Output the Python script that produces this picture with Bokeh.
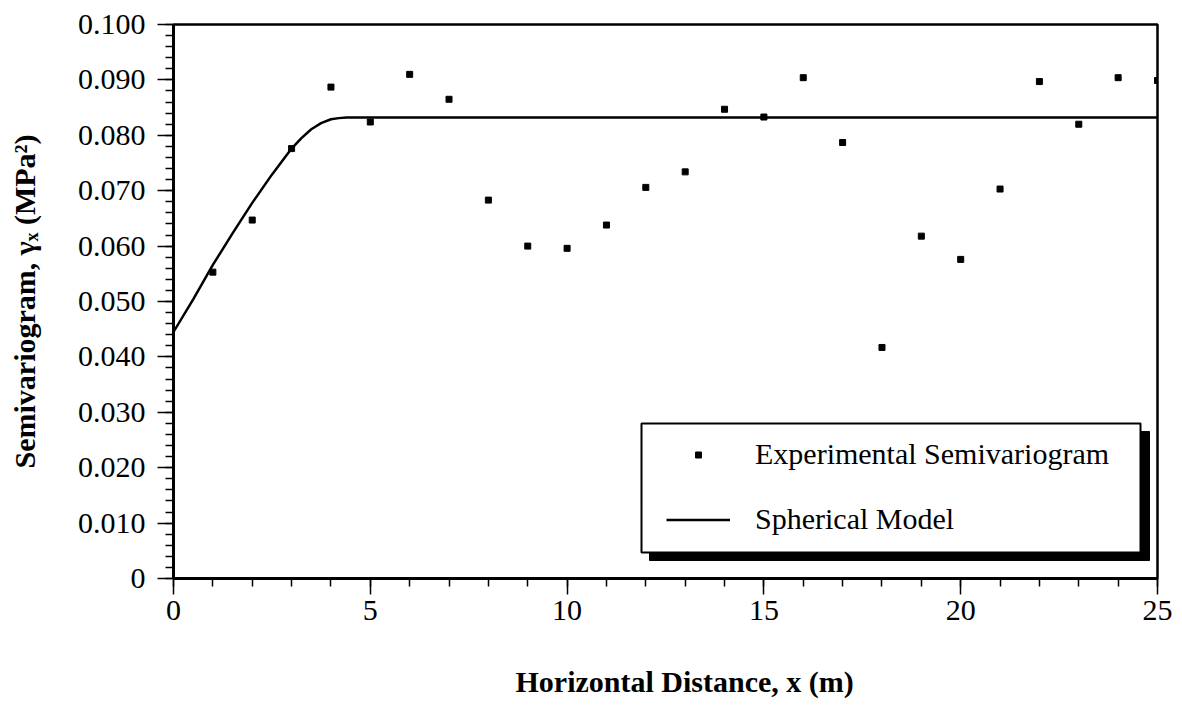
from bokeh.plotting import figure
from bokeh.models import (Range1d, FixedTicker, Legend, LegendItem, BoxAnnotation, Title)
from bokeh.embed import file_html
from bokeh.resources import INLINE

# ---- data ----
lag_x = [1, 2, 3, 4, 5, 6, 7, 8, 9, 10, 11, 12, 13, 14, 15, 16, 17, 18, 19, 20, 21, 22, 23, 24, 25]
gamma_exp = [0.0553, 0.0647, 0.0776, 0.0887, 0.0824, 0.0910, 0.0865, 0.0683, 0.0600, 0.0596,
             0.0638, 0.0706, 0.0734, 0.0847, 0.0833, 0.0904, 0.0787, 0.0417, 0.0618, 0.0576,
             0.0703, 0.0897, 0.0820, 0.0904, 0.0899]

model_x = [0, 0.5, 1, 1.5, 2, 2.5, 3, 3.25, 3.5, 3.75, 4, 4.2, 4.4, 25]
model_y = [0.0445, 0.0504, 0.0566, 0.0623, 0.0678, 0.0729, 0.0776, 0.0795, 0.0811, 0.0822,
           0.0829, 0.0831, 0.0832, 0.0832]

x_ticks = [0, 5, 10, 15, 20, 25]
x_tick_labels = ["0", "5", "10", "15", "20", "25"]
y_ticks = [0.0, 0.01, 0.02, 0.03, 0.04, 0.05, 0.06, 0.07, 0.08, 0.09, 0.1]
y_tick_labels = ["0", "0.010", "0.020", "0.030", "0.040", "0.050", "0.060", "0.070", "0.080", "0.090", "0.100"]

legend_labels = ["Experimental Semivariogram", "Spherical Model"]
x_label = "Horizontal Distance, x (m)"
y_label = "Semivariogram, γₓ (MPa²)"

FONT = "Liberation Serif"

p = figure(width=1182, height=711, output_backend="svg", toolbar_location=None,
           x_range=Range1d(0, 25), y_range=Range1d(0, 0.1),
           min_border_left=173, min_border_right=25, min_border_top=24, min_border_bottom=133)
p.background_fill_color = "white"
p.border_fill_color = "white"
p.grid.visible = False
p.outline_line_color = "black"
p.outline_line_width = 2.5

line_r = p.line(model_x, model_y, line_color="black", line_width=2.5)
pts_r = p.scatter(lag_x, gamma_exp, marker="square", size=6, fill_color="black", line_color="black")

# axes
xa = p.xaxis[0]
xa.ticker = FixedTicker(ticks=x_ticks, minor_ticks=list(range(0, 26)))
xa.major_label_overrides = {t: s for t, s in zip(x_ticks, x_tick_labels)}
ya = p.yaxis[0]
ya.ticker = FixedTicker(ticks=y_ticks, minor_ticks=[round(i * 0.002, 3) for i in range(51)])
ya.major_label_overrides = {t: s for t, s in zip(y_ticks, y_tick_labels)}

for ax in (xa, ya):
    ax.axis_line_width = 3
    ax.axis_line_color = "black"
    ax.major_tick_in = 0
    ax.major_tick_out = 16
    ax.minor_tick_in = 0
    ax.minor_tick_out = 8
    ax.major_tick_line_width = 1.5
    ax.minor_tick_line_width = 1.5
    ax.major_tick_line_color = "black"
    ax.minor_tick_line_color = "black"
    ax.major_label_text_font = FONT
    ax.major_label_text_font_size = "30px"
    ax.major_label_text_color = "black"
xa.major_label_standoff = 6
ya.major_label_standoff = 12

ya.axis_label = y_label
ya.axis_label_text_font = FONT
ya.axis_label_text_font_size = "30px"
ya.axis_label_text_font_style = "bold"
ya.axis_label_text_color = "black"
ya.axis_label_standoff = 34

# blank spacer label on the x axis so that the title below sits lower
xa.axis_label = " "
xa.axis_label_text_font = FONT
xa.axis_label_text_font_size = "30px"
xa.axis_label_standoff = 6

p.add_layout(Title(text=x_label, align="left", offset=342, vertical_align="top", standoff=0,
                   text_font=FONT, text_font_size="30px", text_font_style="bold",
                   text_color="black"), "below")

# legend frame with drop shadow
p.add_layout(BoxAnnotation(left=476, right=976, bottom=18, top=147,
                           left_units="screen", right_units="screen",
                           bottom_units="screen", top_units="screen",
                           fill_color="black", fill_alpha=1, line_color="black", line_alpha=1))
p.add_layout(BoxAnnotation(left=468, right=967, bottom=26, top=155,
                           left_units="screen", right_units="screen",
                           bottom_units="screen", top_units="screen",
                           fill_color="white", fill_alpha=1, line_color="black", line_width=2, line_alpha=1))

legend = Legend(items=[LegendItem(label=legend_labels[0], renderers=[pts_r]),
                       LegendItem(label=legend_labels[1], renderers=[line_r])],
                location=(483, 30), orientation="vertical")
legend.background_fill_alpha = 0
legend.border_line_alpha = 0
legend.padding = 10
legend.margin = 0
legend.spacing = 27
legend.glyph_width = 64
legend.glyph_height = 15
legend.label_height = 38
legend.label_standoff = 25
legend.label_text_font = FONT
legend.label_text_font_size = "30px"
legend.label_text_color = "black"
p.add_layout(legend, "center")

open("out.html", "w").write(file_html(p, INLINE))
